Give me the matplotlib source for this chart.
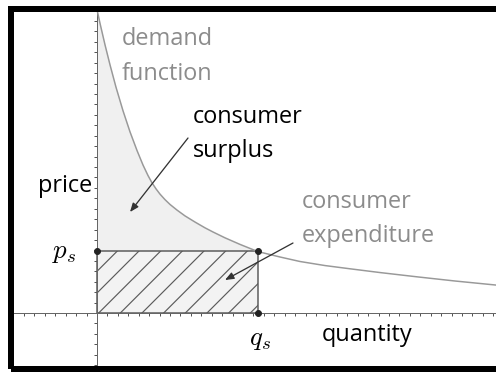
import matplotlib
matplotlib.use('Agg')
import matplotlib.pyplot as plt
from matplotlib.patches import Rectangle
from matplotlib.ticker import MultipleLocator

DPI = 65
W, H = 496, 372

def pt(px):
    # pixel size -> points at this dpi
    return px * 72 / DPI

# demand curve (quantity, price)
demand_q = [0.05, 0.29, 0.77, 1.25, 1.82, 2.49, 3.16, 3.84, 4.41, 4.89, 5.27,
            5.66, 6.04, 6.52, 7.00, 7.67, 8.44, 9.40, 10.35, 11.12, 12.27,
            13.71, 15.4, 17.55, 19.46, 21.86, 24.26, 27.13, 30.68, 34.32, 38.26]
demand_p = [28.86, 27.76, 25.70, 23.78, 21.65, 19.40, 17.38, 15.57, 14.19, 13.18,
            12.49, 11.90, 11.40, 10.87, 10.41, 9.87, 9.31, 8.72, 8.17, 7.77,
            7.21, 6.58, 5.9, 5.37, 4.94, 4.55, 4.24, 3.88, 3.47, 3.07, 2.68]

q_s = 15.4
p_s = 5.9

plt.rcParams['font.family'] = ['Open Sans', 'DejaVu Sans']
plt.rcParams['mathtext.fontset'] = 'cm'
plt.rcParams['hatch.linewidth'] = 1.3

fig = plt.figure(figsize=(W / DPI, H / DPI), dpi=DPI)
ax = fig.add_axes([14 / W, 6 / H, 482 / W, 354 / H])
ax.set_xlim(-7.96, 38.26)
ax.set_ylim(-5.08, 28.86)

# axes through the origin
for side in ['top', 'right']:
    ax.spines[side].set_visible(False)
for side in ['left', 'bottom']:
    ax.spines[side].set_position(('data', 0))
    ax.spines[side].set_color('#666666')
    ax.spines[side].set_linewidth(pt(1))
ax.xaxis.set_major_locator(MultipleLocator(1))
ax.yaxis.set_major_locator(MultipleLocator(1))
ax.tick_params(direction='out', length=pt(3), width=pt(1), color='#555555',
               labelbottom=False, labelleft=False)

# consumer surplus (area under the curve, above p_s)
sq = [q for q in demand_q if q <= q_s]
sp = [p for q, p in zip(demand_q, demand_p) if q <= q_s]
ax.fill_between([0] + sq, [demand_p[0]] + sp, p_s, color='#f0f0f0', lw=0, zorder=1)

# consumer expenditure
ax.add_patch(Rectangle((0, 0), q_s, p_s, facecolor='#f3f3f3', edgecolor='#5a5a5a',
                       hatch='/', lw=pt(1.5), zorder=2))

ax.plot(demand_q, demand_p, color='#999999', lw=pt(1.5), zorder=3)
ax.plot([0, q_s, q_s], [p_s, p_s, 0], 'o', color='#222222', ms=pt(6), zorder=4)

def d(x, y):
    # pixel position in the picture -> data coords
    return (x - 97) / 10.43, (313 - y) / 10.43

fs = pt(23.5)
ax.text(*d(122, 45), 'demand', color='#8c8c8c', fontsize=fs, va='baseline')
ax.text(*d(122, 80), 'function', color='#8c8c8c', fontsize=fs, va='baseline')
ax.text(*d(193, 123), 'consumer', color='black', fontsize=fs, va='baseline')
ax.text(*d(193, 157), 'surplus', color='black', fontsize=fs, va='baseline')
ax.text(*d(302, 208), 'consumer', color='#8c8c8c', fontsize=fs, va='baseline')
ax.text(*d(302, 242), 'expenditure', color='#8c8c8c', fontsize=fs, va='baseline')
ax.text(*d(92, 192), 'price', color='black', fontsize=fs, va='baseline', ha='right')
ax.text(*d(322, 341), 'quantity', color='black', fontsize=fs, va='baseline')
ax.text(*d(64.5, 258), '$p_s$', fontsize=pt(27), va='baseline', ha='center')
ax.text(*d(260, 345), '$q_s$', fontsize=pt(27), va='baseline', ha='center')

arrow = dict(arrowstyle='-|>,head_length=0.8,head_width=0.32', color='#333333',
             lw=pt(1.3), shrinkA=0, shrinkB=0)
ax.annotate('', xy=d(130, 212), xytext=d(188, 138), arrowprops=arrow, zorder=5)
ax.annotate('', xy=d(225, 280), xytext=d(293, 243), arrowprops=arrow, zorder=5)

# thick black frame (open on the right)
fig.add_artist(Rectangle((11 / W, 3 / H), 2, 360 / H, transform=fig.transFigure,
                         fill=False, ec='black', lw=pt(6), clip_on=False))

fig.savefig('out.png', dpi=DPI)
